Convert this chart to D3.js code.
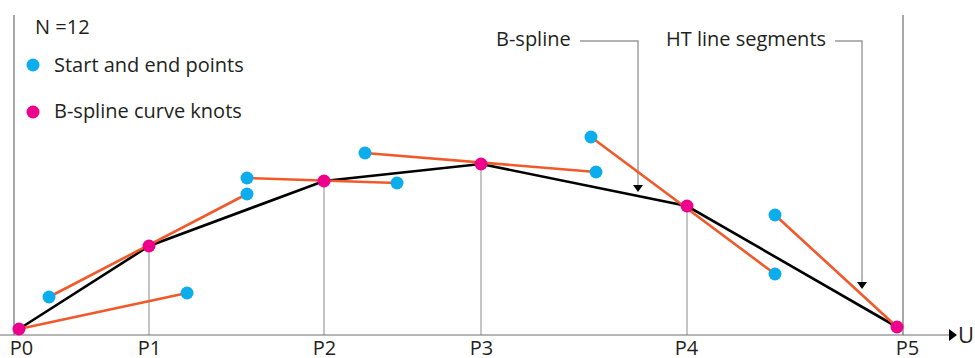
<!DOCTYPE html>
<html>
<head>
<meta charset="utf-8">
<script src="https://cdn.jsdelivr.net/npm/d3@7"></script>
<style>
  html, body { margin: 0; padding: 0; background: #fff; }
  svg text { font-family: "Open Sans", "Noto Sans", sans-serif; fill: #231f20; }
</style>
</head>
<body>
<svg id="chart" width="975" height="358"></svg>
<script>
// ---- data ----
const tickLabels = ["P0", "P1", "P2", "P3", "P4", "P5"];
const tickU      = [7, 135, 310, 467, 672, 893];
const knotU      = [5, 135, 310, 467, 673, 883];
const knotV      = [6, 89, 154, 171, 129, 8];
// HT line segments: start (u,v) -> end (u,v)
const segStartU  = [5, 35, 233, 351, 577, 761];
const segStartV  = [6, 38, 157, 182, 198, 120];
const segEndU    = [173, 233, 383, 582, 761, 883];
const segEndV    = [42, 141, 152, 163, 61, 8];
const legendLabels = ["Start and end points", "B-spline curve knots"];
const nLabel = "N =12";

// ---- setup ----
const svg = d3.select("#chart");
const x = d3.scaleLinear().domain([0, 890]).range([14, 904]);
const y = d3.scaleLinear().domain([0, 320]).range([335, 15]);

const C_BLUE = "#0cadec", C_MAG = "#ec008c", C_ORANGE = "#f1592a", C_GRID = "#8a8a8a";
const FS = 20;

// frame verticals
svg.append("line").attr("x1", x(0)).attr("x2", x(0)).attr("y1", y(320)).attr("y2", y(0))
  .attr("stroke", "#6d6e71").attr("stroke-width", 1.2);
svg.append("line").attr("x1", x(889)).attr("x2", x(889)).attr("y1", y(320)).attr("y2", y(0))
  .attr("stroke", "#6d6e71").attr("stroke-width", 1.2);

// knot drop lines (P1..P4)
svg.append("g").selectAll("line").data(knotU.slice(1, 5)).join("line")
  .attr("x1", d => x(d)).attr("x2", d => x(d))
  .attr("y1", (d, i) => y(knotV[i + 1])).attr("y2", y(0))
  .attr("stroke", C_GRID).attr("stroke-width", 1);

// bottom axis
svg.append("line").attr("x1", 0).attr("x2", 949).attr("y1", y(0)).attr("y2", y(0))
  .attr("stroke", "#6d6e71").attr("stroke-width", 1.2);
svg.append("path").attr("d", `M949,${y(0)-6} L957,${y(0)} L949,${y(0)+6} Z`).attr("fill", "#000");
svg.append("text").attr("x", 958).attr("y", y(0) + 8).attr("font-size", 22).text("U");

const axis = d3.axisBottom(x).tickValues(tickU).tickSize(0)
  .tickFormat((d, i) => tickLabels[i]);
const ag = svg.append("g").attr("transform", `translate(0,${y(0)})`).call(axis);
ag.select(".domain").remove();
ag.selectAll("text").attr("y", 20).attr("dy", 0).attr("font-size", FS)
  .attr("font-family", '"Open Sans", sans-serif').attr("fill", "#231f20");

// annotation leaders
const lead = svg.append("g").attr("fill", "none").attr("stroke", "#9a9a9a").attr("stroke-width", 1.4);
lead.append("path").attr("d", "M580,41 H638 V186");
lead.append("path").attr("d", "M835,41 H862 V283");
svg.append("path").attr("d", "M633,185 L643,185 L638,192 Z").attr("fill", "#000");
svg.append("path").attr("d", "M857,282 L867,282 L862,289 Z").attr("fill", "#000");
svg.append("text").attr("x", 496).attr("y", 46).attr("font-size", FS).text("B-spline");
svg.append("text").attr("x", 666).attr("y", 46).attr("font-size", FS).text("HT line segments");

// B-spline (black)
const line = d3.line().x(d => x(d[0])).y(d => y(d[1]));
svg.append("path").datum(knotU.map((u, i) => [u, knotV[i]]))
  .attr("d", line).attr("fill", "none").attr("stroke", "#000").attr("stroke-width", 2.6);

// HT segments (orange)
const segs = segStartU.map((u, i) => ({ x1: u, y1: segStartV[i], x2: segEndU[i], y2: segEndV[i] }));
svg.append("g").selectAll("line").data(segs).join("line")
  .attr("x1", d => x(d.x1)).attr("y1", d => y(d.y1))
  .attr("x2", d => x(d.x2)).attr("y2", d => y(d.y2))
  .attr("stroke", C_ORANGE).attr("stroke-width", 2.6);

// start/end points (blue), excluding those on the end knots
const ends = [];
segs.forEach((d, i) => {
  if (i !== 0) ends.push([d.x1, d.y1]);
  if (i !== segs.length - 1) ends.push([d.x2, d.y2]);
});
svg.append("g").selectAll("circle").data(ends).join("circle")
  .attr("cx", d => x(d[0])).attr("cy", d => y(d[1])).attr("r", 6.5).attr("fill", C_BLUE);

// knots (magenta)
svg.append("g").selectAll("circle").data(knotU).join("circle")
  .attr("cx", d => x(d)).attr("cy", (d, i) => y(knotV[i])).attr("r", 6.5).attr("fill", C_MAG);

// legend
svg.append("text").attr("x", 35).attr("y", 34).attr("font-size", FS).text(nLabel);
const lg = svg.append("g");
[C_BLUE, C_MAG].forEach((c, i) => {
  lg.append("circle").attr("cx", 33).attr("cy", 65 + i * 47).attr("r", 6.5).attr("fill", c);
  lg.append("text").attr("x", 54).attr("y", 72 + i * 46).attr("font-size", FS).text(legendLabels[i]);
});
</script>
</body>
</html>
